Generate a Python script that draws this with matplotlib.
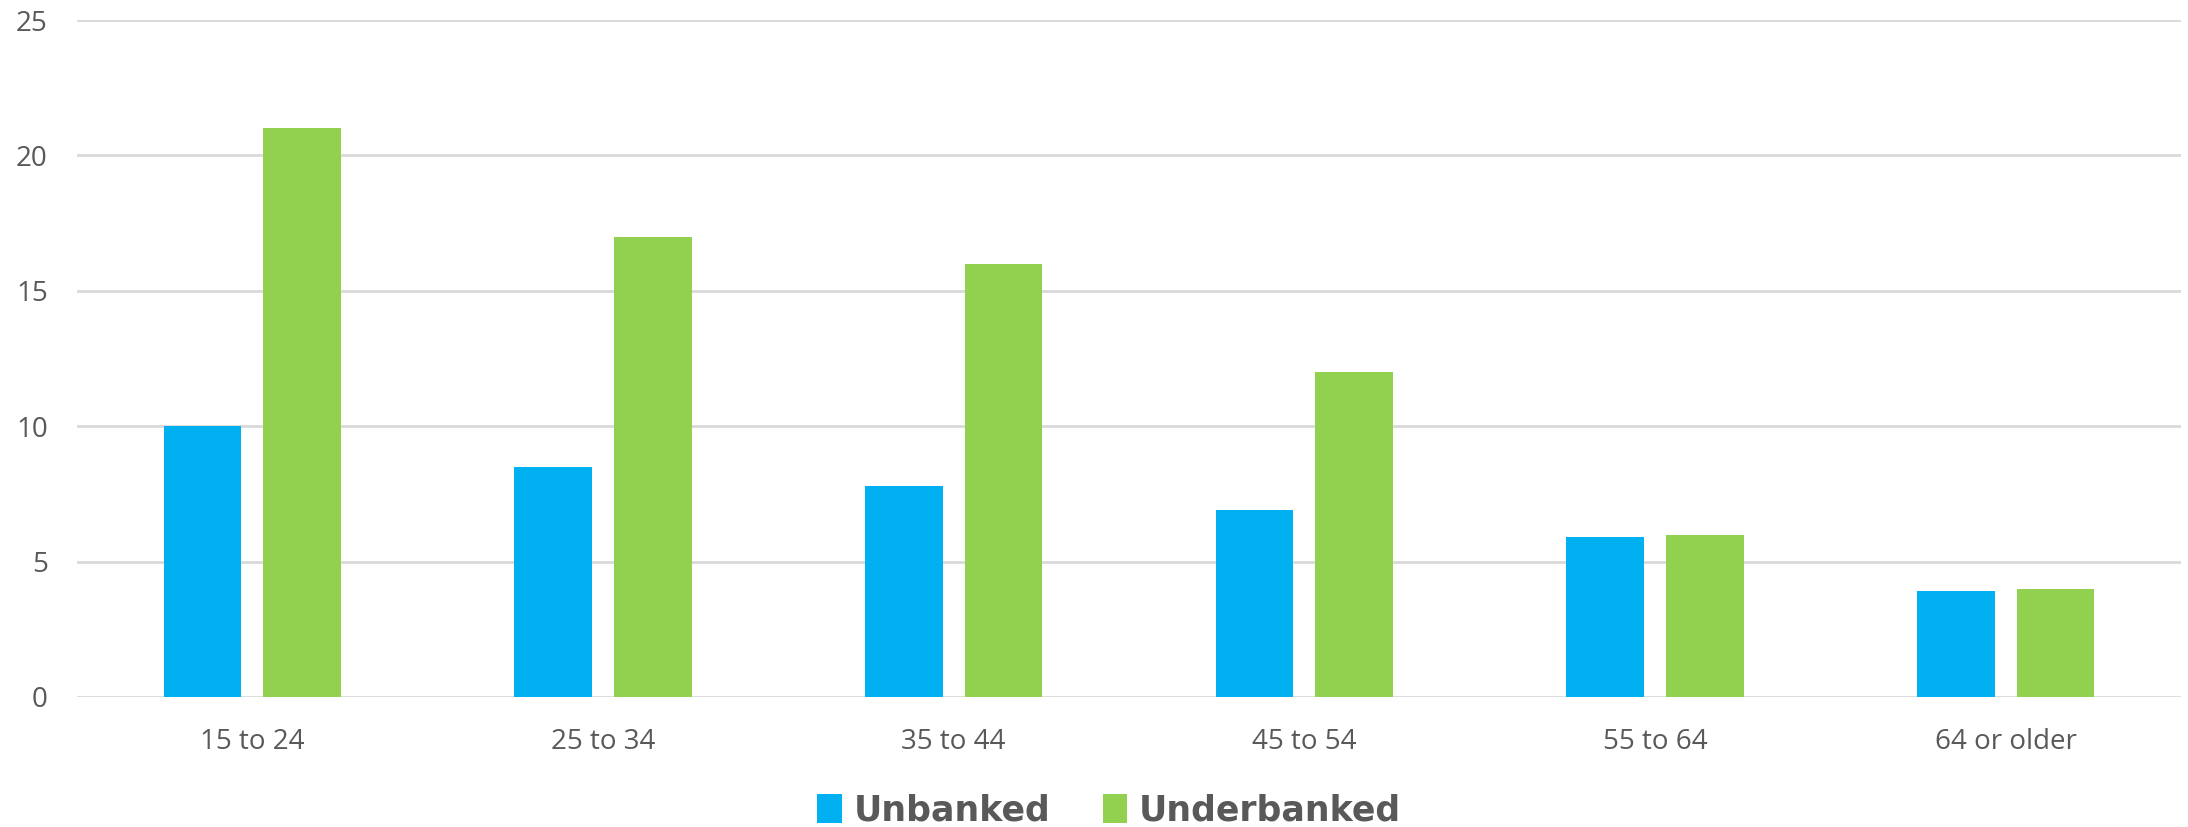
import matplotlib
matplotlib.use("Agg")
import matplotlib.pyplot as plt
import numpy as np
from matplotlib.patches import Patch

categories = ["15 to 24", "25 to 34", "35 to 44", "45 to 54", "55 to 64", "64 or older"]
unbanked = [10, 8.5, 7.8, 6.9, 5.9, 3.9]
underbanked = [21, 17, 16, 12, 6, 4]
series_names = ["Unbanked", "Underbanked"]
colors = ["#00B0F0", "#92D050"]
yticks = [0, 5, 10, 15, 20, 25]

plt.rcParams['font.family'] = ['Open Sans', 'DejaVu Sans']

fig = plt.figure(figsize=(21.88, 8.27), dpi=100)
ax = fig.add_axes([0.0352, 0.1572, 0.9616, 0.8186])

x = np.arange(len(categories))
w = 0.222
off = 0.142
ax.bar(x - off, unbanked, width=w, color=colors[0], zorder=3)
ax.bar(x + off, underbanked, width=w, color=colors[1], zorder=3)

ax.set_xlim(-0.5, len(categories) - 0.5)
ax.set_ylim(0, 25)
ax.set_yticks(yticks)
ax.set_xticks(x)
ax.set_xticklabels(categories)
ax.tick_params(axis='both', length=0, labelsize=20, colors="#595959")
ax.tick_params(axis='y', pad=21)
ax.tick_params(axis='x', pad=22)
ax.yaxis.grid(True, color="#d9d9d9", linewidth=2, zorder=0)
for s in ax.spines.values():
    s.set_visible(False)

handles = [Patch(facecolor=c, edgecolor='none') for c in colors]
fig.legend(handles, series_names, loc='center', bbox_to_anchor=(0.507, 0.02),
           ncol=2, frameon=False, handlelength=0.7, handleheight=0.9,
           handletextpad=0.35, columnspacing=1.5,
           prop={'family': 'DejaVu Sans', 'weight': 'bold', 'size': 25},
           labelcolor="#595959")

fig.savefig("out.png", dpi=100)
